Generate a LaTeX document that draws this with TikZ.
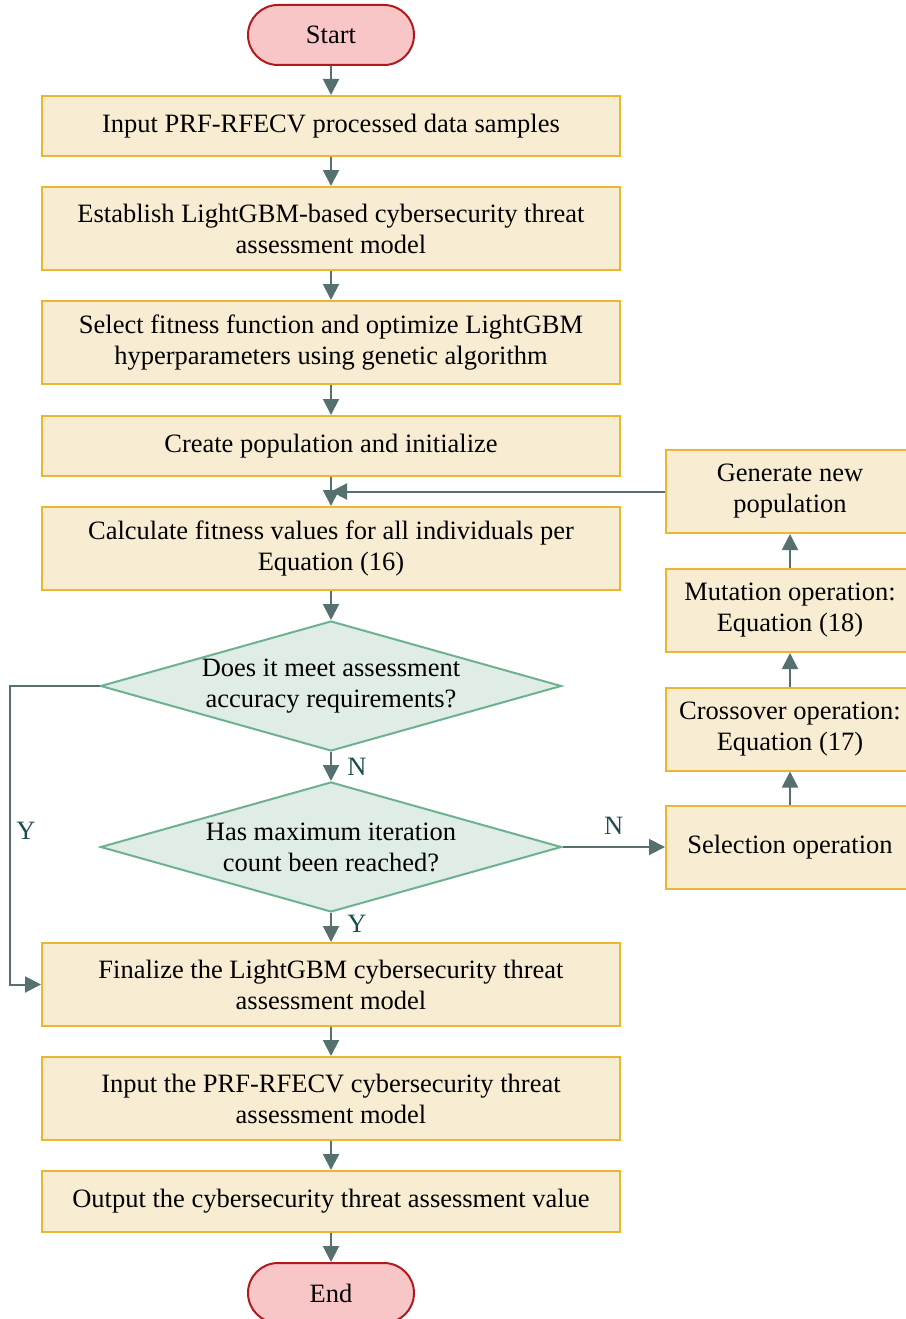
\documentclass[tikz,border=0pt]{standalone}
\usepackage{fontspec}
\setmainfont{Liberation Serif}
\usetikzlibrary{shapes.geometric,arrows.meta,positioning}
\definecolor{boxfill}{HTML}{F8EDD2}
\definecolor{boxline}{HTML}{EBB630}
\definecolor{decfill}{HTML}{DFEDE6}
\definecolor{decline}{HTML}{6EB18F}
\definecolor{termfill}{HTML}{F8C6C7}
\definecolor{termline}{HTML}{B3191C}
\definecolor{arrcol}{HTML}{56706F}
\definecolor{lblcol}{HTML}{1D4D50}
\begin{document}
\begin{tikzpicture}[x=1pt,y=-1pt,>={Triangle[length=16pt,width=16pt]},
    font=\rmfamily\fontsize{26.5}{31}\selectfont,
    proc/.style={draw=boxline,fill=boxfill,line width=2pt,minimum width=578pt,align=center,inner sep=0pt},
    side/.style={proc,minimum width=248pt,minimum height=83pt},
    term/.style={draw=termline,fill=termfill,line width=2pt,rounded corners=30pt,minimum width=166pt,minimum height=60pt},
    decide/.style={diamond,draw=decline,fill=decfill,line width=2pt,minimum width=461pt,minimum height=130pt,inner sep=0pt},
    link/.style={->,draw=arrcol,line width=2pt},
    yn/.style={text=lblcol}]
    \useasboundingbox (0,0) rectangle (905,1319);
    % main column
    \node[term] (start) at (331,35) {Start};
    \node[proc,minimum height=60pt] (b1) at (331,126) {Input PRF-RFECV processed data samples};
    \node[proc,minimum height=83pt] (b2) at (331,228.5) {Establish LightGBM-based cybersecurity threat\\assessment model};
    \node[proc,minimum height=83pt] (b3) at (331,342.5) {Select fitness function and optimize LightGBM\\hyperparameters using genetic algorithm};
    \node[proc,minimum height=60pt] (b4) at (331,446) {Create population and initialize};
    \node[proc,minimum height=83pt] (b5) at (331,548.5) {Calculate fitness values for all individuals per\\Equation (16)};
    \node[decide,label={[align=center]center:Does it meet assessment\\accuracy requirements?}] (d1) at (331,686) {};
    \node[decide,label={[align=center]center:Has maximum iteration\\count been reached?}] (d2) at (331,847) {};
    \node[proc,minimum height=83pt] (b6) at (331,984.5) {Finalize the LightGBM cybersecurity threat\\assessment model};
    \node[proc,minimum height=83pt] (b7) at (331,1098.5) {Input the PRF-RFECV cybersecurity threat\\assessment model};
    \node[proc,minimum height=61pt] (b8) at (331,1201.5) {Output the cybersecurity threat assessment value};
    \node[term] (end) at (331,1293) {End};
    % genetic loop
    \node[side] (sel) at (790,847) {Selection operation};
    \node[side] (cross) at (790,729) {Crossover operation:\\Equation (17)};
    \node[side] (mut) at (790,610.5) {Mutation operation:\\Equation (18)};
    \node[side] (gen) at (790,491.5) {Generate new\\population};
    \coordinate (yturn) at (10,686);
    % connectors
    \draw[link] (start) -- (b1);
    \draw[link] (b1) -- (b2);
    \draw[link] (b2) -- (b3);
    \draw[link] (b3) -- (b4);
    \draw[link] (b4) -- (b5);
    \draw[link] (b5) -- (d1);
    \draw[link] (d1) -- node[yn,right,xshift=12pt]{N} (d2);
    \draw[link] (d2) -- node[yn,right,xshift=12pt,yshift=4pt]{Y} (b6);
    \draw[link] (d1.west) -- (yturn) |- node[yn,right,pos=0.25,xshift=2pt,yshift=4pt]{Y} (b6.west);
    \draw[link] (d2.east) -- node[yn,above,yshift=8pt]{N} (sel.west);
    \draw[link] (sel) -- (cross);
    \draw[link] (cross) -- (mut);
    \draw[link] (mut) -- (gen);
    \draw[link] (gen.west) -- (gen.west -| b5.north);
    \draw[link] (b6) -- (b7);
    \draw[link] (b7) -- (b8);
    \draw[link] (b8) -- (end);
\end{tikzpicture}
\end{document}
